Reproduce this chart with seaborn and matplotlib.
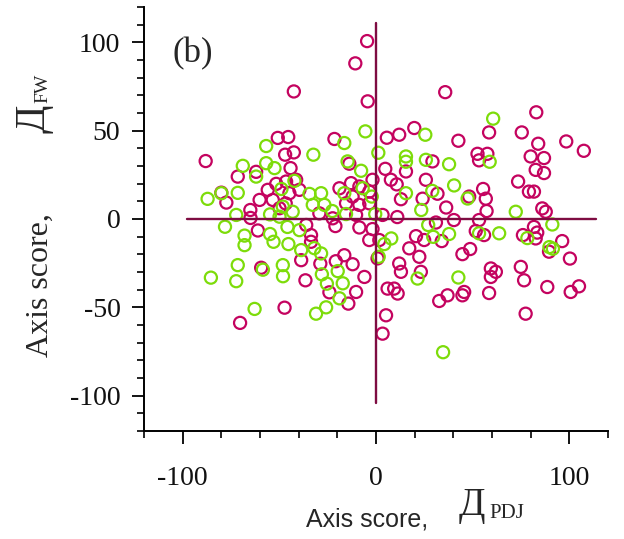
import matplotlib
matplotlib.use("Agg")
import matplotlib.pyplot as plt
from matplotlib.ticker import MultipleLocator, FixedLocator
import pandas as pd
import seaborn as sns

# ---------------- data ----------------
magenta_x = [-4.6, -10.7, -4.3, -42.5, -88.1, -50.8, -45.4, -47.0, -42.5, -44.2,
             -21.5, 5.6, -13.8, -1.8, 7.7, -71.5, -62.0, -80.0, -77.4, -60.2,
             -56.0, -51.6, -65.0, -53.4, -49.9, -46.7, -64.9, -61.1, -46.5, -41.3,
             -39.6, -44.8, -12.9, -8.6, -18.9, -3.5, -12.1, -15.5, -8.6, -3.5,
             -10.3, -22.4, -29.3, -21.0, -8.6, -1.8, -3.5, -33.6, -33.6, -36.1,
             -16.4, 3.4, 1.7, 4.8, 15.5, 10.7, 25.8, 29.2, 52.5, 53.3,
             57.6, 24.1, 31.8, 36.3, 40.3, 31.0, 11.0, 48.2, 55.4, 56.8,
             57.2, 53.3, 51.6, 20.7, 24.9, 34.0, 17.2, 22.4, 44.7, 48.7,
             80.0, 86.9, 82.6, 86.9, 107.5, 73.5, 79.1, 81.7, 86.0, 87.8,
             81.7, 83.4, 76.0, 82.6, 96.3, 89.5, 100.3, 35.8, 82.9, 75.4,
             98.4, 58.5, 42.6, 19.8, 12.0, 83.9, 12.9, 12.0, 12.9, 23.2,
             55.9, 74.9, 59.4, 62.0, 59.4, 76.6, 88.6, 100.7, 105.0, 6.0,
             9.4, 11.2, 32.7, 37.0, 44.7, 45.6, 58.5, 77.4, 5.2, 3.4,
             -59.4, -38.7, -36.5, -28.8, -20.8, -12.1, -6.0, -10.3, -14.3, -24.1,
             -47.3, -70.3, 0.8]
magenta_y = [100.7, 88.1, 66.6, 72.2, 32.8, 45.9, 46.4, 36.4, 37.7, 28.8,
             45.3, 46.0, 31.3, 22.2, 22.2, 24.0, 26.7, 14.9, 9.3, 10.8,
             16.5, 19.9, 5.1, 10.8, 6.1, 8.8, 0.6, -6.5, 21.2, 22.2,
             16.5, 14.6, 20.3, 18.4, 17.4, 15.5, 12.7, 8.9, 8.0, 8.9,
             2.3, 0.4, 3.2, -4.0, -4.8, -5.7, -11.9, -9.1, -12.9, -3.4,
             -20.5, 2.3, -11.9, 28.4, 26.9, 19.6, 22.2, 32.6, 36.9, 33.2,
             36.9, 11.5, 14.3, 6.5, -0.6, -2.0, 1.1, 12.7, 17.0, 11.5,
             4.5, -0.6, -6.8, -9.7, -11.9, -12.5, -16.6, -21.4, -19.9, -17.0,
             35.4, 34.5, 27.8, 26.0, 38.6, 21.2, 15.5, 15.5, 6.0, 4.1,
             -4.5, -7.7, -9.1, -11.0, -12.5, -18.5, -22.4, 71.8, 60.4, 49.0,
             43.9, 49.0, 44.3, 51.5, 47.7, 42.6, 11.2, -25.2, -29.9, -29.9,
             -9.1, -27.1, -28.0, -29.9, -32.8, -34.7, -38.5, -41.3, -38.1, -39.4,
             -39.4, -42.2, -46.4, -43.2, -43.2, -41.3, -41.9, -53.6, -54.5, -64.9,
             -27.6, -23.3, -34.7, -25.3, -23.9, -25.6, -32.8, -41.3, -47.9, -41.5,
             -50.2, -58.8, -22.3]

green_x = [-56.8, -32.4, -16.4, -5.5, 1.2, -14.7, -7.7, -68.9, -56.8, -52.5,
           -62.0, -42.2, -34.4, -28.4, -16.4, -6.9, -2.2, -87.1, -80.0, -71.5,
           -72.3, -78.1, -48.9, -22.6, -15.5, -0.4, -54.8, -68.0, -68.0, -54.8,
           -53.0, -49.9, -45.8, -45.3, -39.6, -38.7, -31.9, 4.3, -32.7, -26.7,
           -43.1, -48.2, 15.5, 15.5, 25.8, 37.8, 40.4, 15.5, 29.1, 23.4,
           47.4, 58.8, 27.0, 29.6, 37.8, 53.3, 63.7, 7.9, 60.6, 25.5,
           72.3, 91.2, 78.3, 89.7, 91.5, 1.4, 21.5, 42.6, 34.7, -71.5,
           -72.3, -85.4, -58.5, -48.2, -48.1, -62.8, -31.0, -25.8, -28.0, -25.4,
           -18.9, -17.2, -19.8, -28.4]
green_y = [41.3, 36.4, 43.0, 49.6, 37.5, 32.6, 27.3, 30.1, 31.6, 28.8,
           24.0, 21.6, 14.2, 14.6, 14.6, 17.4, 12.7, 11.4, 14.6, 14.8,
           2.3, -4.4, 17.0, 4.5, 2.8, 2.8, 2.6, -9.4, -14.8, -8.5,
           -12.9, 1.3, -4.5, -14.2, -6.3, -17.6, -16.5, -14.2, 8.0, 8.0,
           4.1, 7.0, 35.4, 32.4, 33.5, 31.0, 19.0, 14.6, 15.9, 5.1,
           11.6, 32.4, -3.4, -10.1, -8.5, -8.1, -8.1, -11.0, 56.8, 47.7,
           4.1, -3.1, -10.8, -15.9, -16.8, -21.4, -33.7, -33.1, -75.4, -26.1,
           -35.2, -33.2, -28.7, -26.1, -32.4, -50.9, -53.6, -50.0, -31.3, -36.6,
           -44.9, -36.4, -29.5, -19.5]

series_colors = {"magenta": "#C4035F", "green": "#7DDC0A"}
line_color = "#7E0C42"
hline_x = [-98, 114]      # horizontal reference line (y = 0)
vline_y = [-104, 111]     # vertical reference line (x = 0)
x_major = [-100, 0, 100]
y_major = [-100, -50, 0, 50, 100]

df = pd.concat([
    pd.DataFrame({"x": magenta_x, "y": magenta_y, "grp": "magenta"}),
    pd.DataFrame({"x": green_x, "y": green_y, "grp": "green"}),
], ignore_index=True)

# ---------------- style ----------------
sns.set_theme(style="ticks")
plt.rcParams["font.family"] = ["Liberation Serif", "DejaVu Serif"]
plt.rcParams["axes.unicode_minus"] = False

fig = plt.figure(figsize=(6.24, 5.39), dpi=100)
ax = fig.add_axes([144 / 624, 1 - 431 / 539, 464 / 624, 424 / 539])

for grp in ["magenta", "green"]:
    sub = df[df["grp"] == grp]
    sns.scatterplot(data=sub, x="x", y="y", ax=ax, s=76, marker="o",
                    facecolor="none", edgecolor=series_colors[grp],
                    linewidth=1.6, legend=False, zorder=2)

ax.plot(hline_x, [0, 0], color=line_color, lw=1.7, zorder=3)
ax.plot([0, 0], vline_y, color=line_color, lw=1.7, zorder=3)

ax.set_xlim(-120, 120)
ax.set_ylim(-120, 120)
ax.xaxis.set_major_locator(FixedLocator(x_major))
ax.xaxis.set_minor_locator(MultipleLocator(20))
ax.yaxis.set_major_locator(FixedLocator(y_major))
ax.yaxis.set_minor_locator(MultipleLocator(10))

for side in ["top", "right"]:
    ax.spines[side].set_visible(False)
for side in ["left", "bottom"]:
    ax.spines[side].set_color("black")
    ax.spines[side].set_linewidth(1.4)

ax.tick_params(which="major", length=9, width=1.3, color="black",
               labelsize=20, labelcolor="#111111", direction="out")
ax.tick_params(which="minor", length=5, width=1.2, color="black", direction="out")
ax.tick_params(axis="x", which="major", pad=16)
ax.tick_params(axis="y", which="major", pad=8)
ax.set_xlabel("")
ax.set_ylabel("")
ax.grid(False)

# panel tag
fig.text(172 / 624, 1 - 62 / 539, "(b)", fontsize=25, ha="left", va="baseline",
         family=["Liberation Serif", "DejaVu Serif"])

# x-axis label
fig.text(306 / 624, 1 - 526 / 539, "Axis score,", fontsize=18, ha="left",
         va="baseline", family=["Liberation Sans", "DejaVu Sans"])
fig.text(459 / 624, 1 - 515 / 539, "Д", fontsize=28, ha="left", va="baseline",
         family=["Liberation Serif", "DejaVu Serif"])
fig.text(489 / 624, 1 - 518 / 539, "PDJ", fontsize=15, ha="left", va="baseline",
         family=["Liberation Serif", "DejaVu Serif"])

# y-axis label (rotated pieces)
fig.text(48 / 624, 1 - 357 / 539, "Axis score,", fontsize=23, rotation=90,
         rotation_mode="anchor", ha="left", va="baseline",
         family=["Liberation Serif", "DejaVu Serif"])
fig.text(44 / 624, 1 - 133 / 539, "Д", fontsize=30, rotation=90,
         rotation_mode="anchor", ha="left", va="baseline",
         family=["Liberation Serif", "DejaVu Serif"])
fig.text(47 / 624, 1 - 103 / 539, "FW", fontsize=14, rotation=90,
         rotation_mode="anchor", ha="left", va="baseline",
         family=["Liberation Serif", "DejaVu Serif"])

fig.savefig("out.png", dpi=100)
